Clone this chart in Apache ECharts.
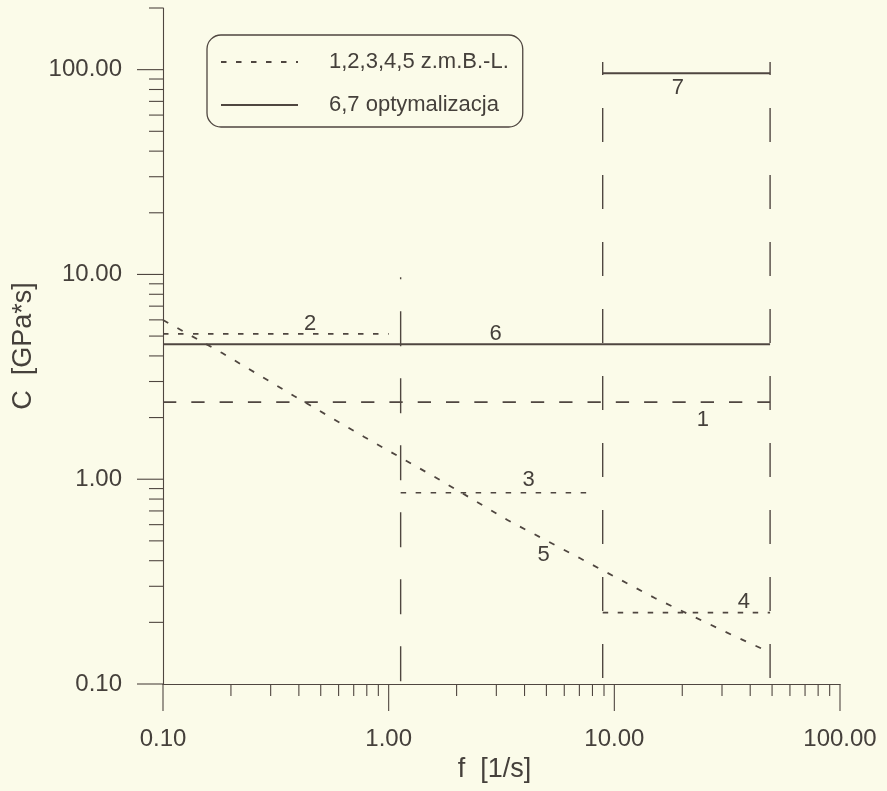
<!DOCTYPE html>
<html>
<head>
<meta charset="utf-8">
<script src="https://cdn.jsdelivr.net/npm/echarts@6/dist/echarts.min.js"></script>
<style>
  html, body { margin: 0; padding: 0; background: #fbfbe9; }
  #chart { width: 887px; height: 791px; }
</style>
</head>
<body>
<div id="chart"></div>
<script>
// Stiffness C [GPa*s] against frequency f [1/s], log-log.
const nameBL = '1,2,3,4,5 z.m.B.-L.';
const nameOpt = '6,7 optymalizacja';

// [f, C] pairs
const line1 = [[0.1, 2.38], [49, 2.38]];
const line2 = [[0.1, 5.12], [1.0, 5.12]];
const line3 = [[1.13, 0.859], [8.0, 0.859]];
const line4 = [[8.88, 0.223], [49, 0.223]];
const line5 = [[0.1, 5.99], [0.183, 4.13], [0.381, 2.55], [0.78, 1.607], [1.63, 1.014],
               [3.36, 0.632], [7.02, 0.412], [15.1, 0.263], [33.2, 0.1735], [47.5, 0.1449], [49, 0.143]];
const line6 = [[0.1, 4.56], [49, 4.56]];
const line7 = [[8.88, 96], [49, 96]];

// frequency range boundaries
const boundLow = [[1.13, 9.7], [1.13, 0.1]];
const boundMid = [[8.88, 109], [8.88, 0.1]];
const boundHigh = [[49, 109], [49, 0.1]];

// curve numbers and where they sit, [tag, f, C]
const curveTagAnchors = [
  ['1', 24.7, 1.945], ['2', 0.449, 5.73], ['3', 4.17, 0.991], ['4', 37.5, 0.2514],
  ['5', 4.86, 0.4265], ['6', 2.975, 5.12], ['7', 19.1, 81.3]
];

// axis tick values
const xMajorTicks = [0.1, 1, 10, 100];
const xMinorTicks = [0.2, 0.3, 0.4, 0.5, 0.6, 0.7, 0.8, 0.9,
                     2, 3, 4, 5, 6, 7, 8, 9,
                     20, 30, 40, 50, 60, 70, 80, 90];
const yMajorTicks = [0.1, 1, 10, 100];
const yMinorTicks = [0.2, 0.3, 0.4, 0.5, 0.6, 0.7, 0.8, 0.9,
                     2, 3, 4, 5, 6, 7, 8, 9,
                     20, 30, 40, 50, 60, 70, 80, 90, 200];

const X_MIN = 0.1, X_MAX = 100, Y_MIN = 0.1, Y_MAX = 200;
const INK = '#4f4640';
const TEXT = '#45403b';
const FONT = '"Liberation Sans", Arial, sans-serif';

const SHORT_DASH = [5.5, 9.5];

function lineSeries(name, data, type, width, extra) {
  return Object.assign({
    name: name,
    type: 'line',
    data: data,
    symbol: 'none',
    silent: true,
    itemStyle: { color: INK },
    lineStyle: { color: INK, width: width, type: type, cap: 'butt' },
    z: 4
  }, extra || {});
}

function tickSeries(values, along, len) {
  return {
    type: 'custom',
    silent: true,
    clip: false,
    z: 5,
    data: values.map(v => along === 'x' ? [v, Y_MIN] : [X_MIN, v]),
    renderItem: function (params, api) {
      const p = api.coord([api.value(0), api.value(1)]);
      const shape = along === 'x'
        ? { x1: p[0], y1: p[1], x2: p[0], y2: p[1] + len }
        : { x1: p[0] - len, y1: p[1], x2: p[0], y2: p[1] };
      return { type: 'line', shape: shape, style: { stroke: INK, lineWidth: 1.1 } };
    }
  };
}

const chart = echarts.init(document.getElementById('chart'), null, { renderer: 'canvas' });

const option = {
  backgroundColor: '#fbfbe9',
  animation: false,
  grid: { left: 163, right: 47, top: 8, bottom: 107, containLabel: false },
  legend: {
    data: [nameBL, nameOpt],
    orient: 'vertical',
    left: 207,
    top: 35,
    padding: [16, 14, 11, 13],
    itemGap: 21,
    itemWidth: 77,
    itemHeight: 14,
    borderColor: INK,
    borderWidth: 1.3,
    borderRadius: 14,
    selectedMode: false,
    itemStyle: { opacity: 0 },
    textStyle: { fontFamily: FONT, fontSize: 22, color: TEXT, padding: [0, 0, 0, 26] }
  },
  xAxis: {
    type: 'log',
    logBase: 10,
    min: X_MIN,
    max: X_MAX,
    name: 'f  [1/s]',
    nameLocation: 'middle',
    nameGap: 72,
    nameTextStyle: { fontFamily: FONT, fontSize: 27, color: TEXT, padding: [0, 14, 0, 0] },
    axisLine: { onZero: false, lineStyle: { color: INK, width: 1.1 } },
    axisTick: { show: false },
    splitLine: { show: false },
    minorTick: { show: false },
    axisLabel: {
      margin: 43,
      fontFamily: FONT, fontSize: 24, color: TEXT,
      formatter: v => Number(v).toFixed(2)
    }
  },
  yAxis: {
    type: 'log',
    logBase: 10,
    min: Y_MIN,
    max: Y_MAX,
    name: 'C  [GPa*s]',
    nameLocation: 'middle',
    nameGap: 126,
    nameRotate: 90,
    nameTextStyle: { fontFamily: FONT, fontSize: 27, color: TEXT },
    axisLine: { onZero: false, lineStyle: { color: INK, width: 1.1 } },
    axisTick: { show: false },
    splitLine: { show: false },
    minorTick: { show: false },
    axisLabel: {
      margin: 41,
      showMaxLabel: false,
      fontFamily: FONT, fontSize: 24, color: TEXT,
      formatter: v => Number(v).toFixed(2)
    }
  },
  series: [
    lineSeries(nameBL, line2, SHORT_DASH, 1.7),
    lineSeries(nameBL, line3, SHORT_DASH, 1.7),
    lineSeries(nameBL, line4, SHORT_DASH, 1.7),
    lineSeries(nameBL, line5, [6, 10.5], 1.8),
    lineSeries(nameBL, line1, [13.3, 15], 1.7),
    lineSeries(nameOpt, line6, 'solid', 1.9),
    lineSeries(nameOpt, line7, 'solid', 1.9),
    lineSeries('granica', boundLow, [35, 32], 1.4, { lineStyle: { color: INK, width: 1.4, type: [35, 32], dashOffset: 33 } }),
    lineSeries('granica', boundMid, [34, 33], 1.4, { lineStyle: { color: INK, width: 1.4, type: [34, 33], dashOffset: 21 } }),
    lineSeries('granica', boundHigh, [34, 33], 1.4, { lineStyle: { color: INK, width: 1.4, type: [34, 33], dashOffset: 21 } }),
    {
      name: 'numery',
      type: 'scatter',
      silent: true,
      symbolSize: 0,
      itemStyle: { color: TEXT, opacity: 1 },
      data: curveTagAnchors.map(t => ({ name: t[0], value: [t[1], t[2]] })),
      label: {
        show: true,
        position: 'inside',
        formatter: p => p.name,
        fontFamily: FONT, fontSize: 22, color: TEXT, opacity: 1
      },
      z: 6
    },
    tickSeries(xMajorTicks, 'x', 27),
    tickSeries(xMinorTicks, 'x', 12),
    tickSeries(yMajorTicks, 'y', 26),
    tickSeries(yMinorTicks, 'y', 14)
  ]
};

chart.setOption(option);
</script>
</body>
</html>
